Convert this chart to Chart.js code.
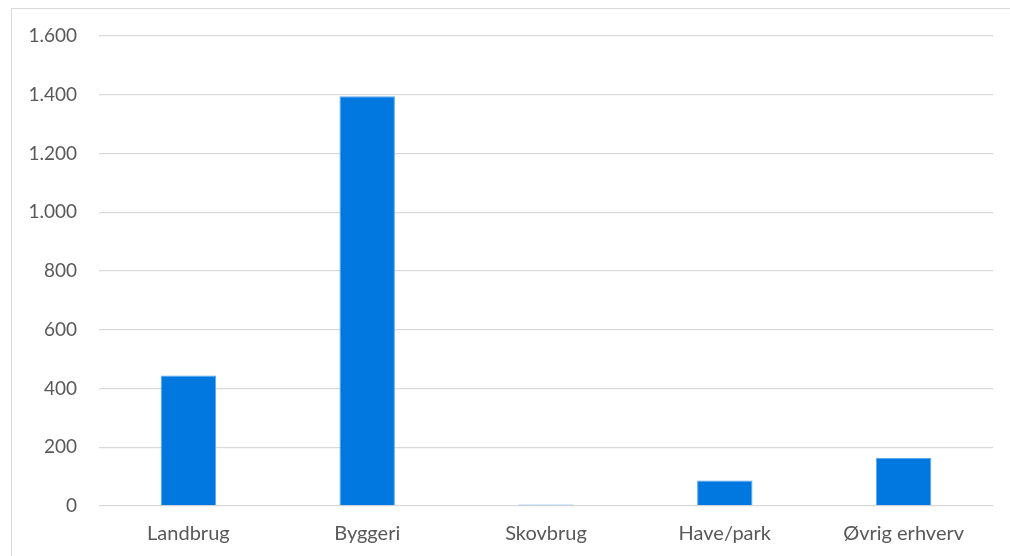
<!DOCTYPE html>
<html>
<head>
<meta charset="utf-8">
<script src="https://cdn.jsdelivr.net/npm/chart.js@4.4.1/dist/chart.umd.min.js"></script>
<style>
  html, body { margin: 0; padding: 0; background: #fff; }
  #wrap { position: relative; width: 1010px; height: 556px; overflow: hidden; }
  #frame { position: absolute; left: 11px; top: 8px; width: 1100px; height: 600px;
           border-left: 1px solid #d9d9d9; border-top: 1px solid #d9d9d9; pointer-events: none; }
</style>
</head>
<body>
<div id="wrap">
  <canvas id="canvas" width="1010" height="556"></canvas>
  <div id="frame"></div>
</div>
<script>
// Kategorier og værdier
const labels = ['Landbrug', 'Byggeri', 'Skovbrug', 'Have/park', 'Øvrig erhverv']
const values = [444, 1395, 5, 87, 163]
const yTicks = [0, 200, 400, 600, 800, 1000, 1200, 1400, 1600]

// Tal med punktum som tusindtalsseparator
const fmt = v => String(v).replace(/\B(?=(\d{3})+(?!\d))/g, '.')

const data = {
  labels: labels,
  datasets: [
    {
      data: values,
      backgroundColor: '#0078DF',
      borderColor: '#5AA9EE',
      borderWidth: 1,
      barPercentage: 1,
      categoryPercentage: 0.31,
    },
  ],
}

const config = {
  type: 'bar',
  data: data,
  options: {
    responsive: false,
    animation: false,
    layout: { padding: { top: 36, right: 17, left: 0, bottom: 0 } },
    plugins: { legend: { display: false }, tooltip: { enabled: false } },
    scales: {
      x: {
        grid: { display: false, drawTicks: false },
        border: { display: false },
        ticks: { color: '#595959', font: { family: 'Lato', size: 20 }, padding: 16 },
        afterFit: scale => { scale.height = 50 },
      },
      y: {
        min: 0,
        max: 1600,
        afterBuildTicks: scale => { scale.ticks = yTicks.map(v => ({ value: v })) },
        grid: { color: '#d9d9d9', lineWidth: 1.3, drawTicks: false },
        border: { display: false },
        ticks: {
          color: '#595959',
          font: { family: 'Lato', size: 19 },
          padding: 22,
          callback: v => fmt(v),
        },
        afterFit: scale => { scale.width = 99 },
      },
    },
  },
}

const canvas = document.getElementById('canvas')
const chart = new Chart(canvas, config)
</script>
</body>
</html>
